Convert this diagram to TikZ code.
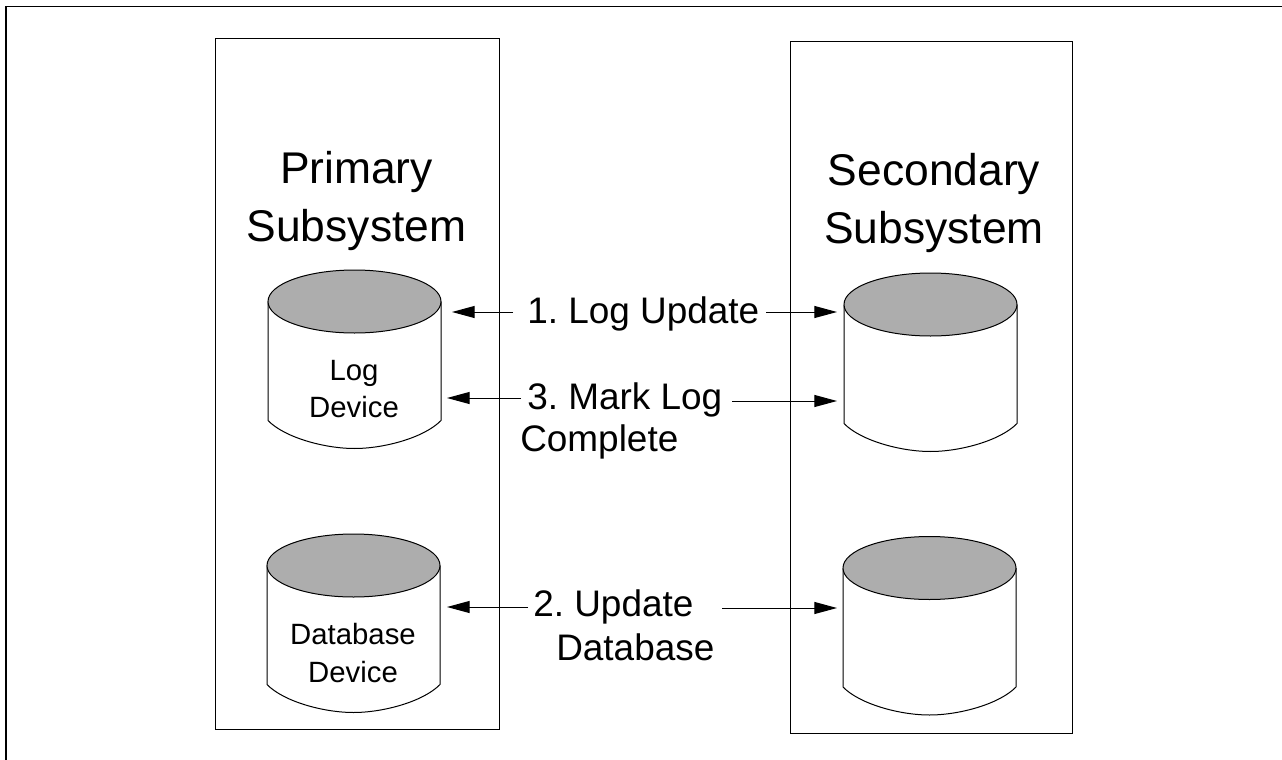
\documentclass[tikz,border=0pt]{standalone}
\usepackage{fontspec}
\setmainfont{Liberation Sans}
\usetikzlibrary{arrows.meta}
\tikzset{
  x=0.75pt,y=-0.75pt,
  frame/.style={draw=black,line width=1.1pt},
  sysbox/.style={draw=black,line width=0.75pt},
  lab/.style={inner sep=0pt,align=center,font=\frenchspacing\fontsize{27.7}{36}\selectfont},
  title/.style={inner sep=0pt,align=center,font=\fontsize{33.3}{43.5}\selectfont},
  small/.style={inner sep=0pt,align=center,font=\fontsize{22}{28}\selectfont},
  link/.style={draw=black,line width=0.75pt,-{Triangle[length=17pt,width=9pt]}},
  pics/drum/.style={code={
    \path[draw=black,fill=white,line width=0.75pt] (-86.5,0) -- (-86.5,119) .. controls (-70,136) and (-30,147) .. (0,147) .. controls (30,147) and (70,136) .. (86.5,119) -- (86.5,0);
    \path[draw=black,fill=black!32,line width=0.75pt] (0,0) ellipse [x radius=86.5,y radius=31.5];
  }}
}
\begin{document}
\begin{tikzpicture}
\useasboundingbox (0,0) rectangle (1282,760);
\coordinate (fa) at (6,760);
\coordinate (fb) at (6,6.3);
\coordinate (fc) at (1282,6.3);
\draw[frame] (fa) -- (fb) -- (fc);
\node[sysbox,minimum width=213pt,minimum height=518.5pt,inner sep=0pt] (pbox) at (357,384) {};
\node[sysbox,minimum width=211.5pt,minimum height=519pt,inner sep=0pt] (sbox) at (931,387) {};
\pic at (354.5,301.5) {drum};
\pic at (930.5,304.5) {drum};
\pic at (353.5,565.5) {drum};
\pic at (929.5,568) {drum};
\node[title] (ptitle) at (356.5,201) {Primary\\Subsystem};
\node[title] (stitle) at (934,203) {Secondary\\Subsystem};
\node[small] (logdev) at (354,389) {Log\\Device};
\node[small] (dbdev) at (353,653) {Database\\Device};
\node[lab,anchor=west] (l1) at (527,314) {1. Log Update};
\node[lab,anchor=west] (l3) at (527,400) {3. Mark Log};
\node[lab,anchor=west] (l3b) at (520,442) {Complete};
\node[lab,anchor=west] (l2) at (533,607) {2. Update};
\node[lab,anchor=west] (l2b) at (556,647) {Database};
\coordinate (a1) at (452,312);
\coordinate (b1) at (837,312);
\coordinate (a3) at (447,398);
\coordinate (b3) at (837,401);
\coordinate (a2) at (447,607);
\coordinate (b2) at (837,608);
\coordinate (s1) at (513,312);
\coordinate (e1) at (766,312);
\coordinate (s3) at (521,398);
\coordinate (e3) at (732,401);
\coordinate (s2) at (528,607);
\coordinate (e2) at (722,608);
\draw[link] (s1) -- (a1);
\draw[link] (e1) -- (b1);
\draw[link] (s3) -- (a3);
\draw[link] (e3) -- (b3);
\draw[link] (s2) -- (a2);
\draw[link] (e2) -- (b2);
\end{tikzpicture}
\end{document}
